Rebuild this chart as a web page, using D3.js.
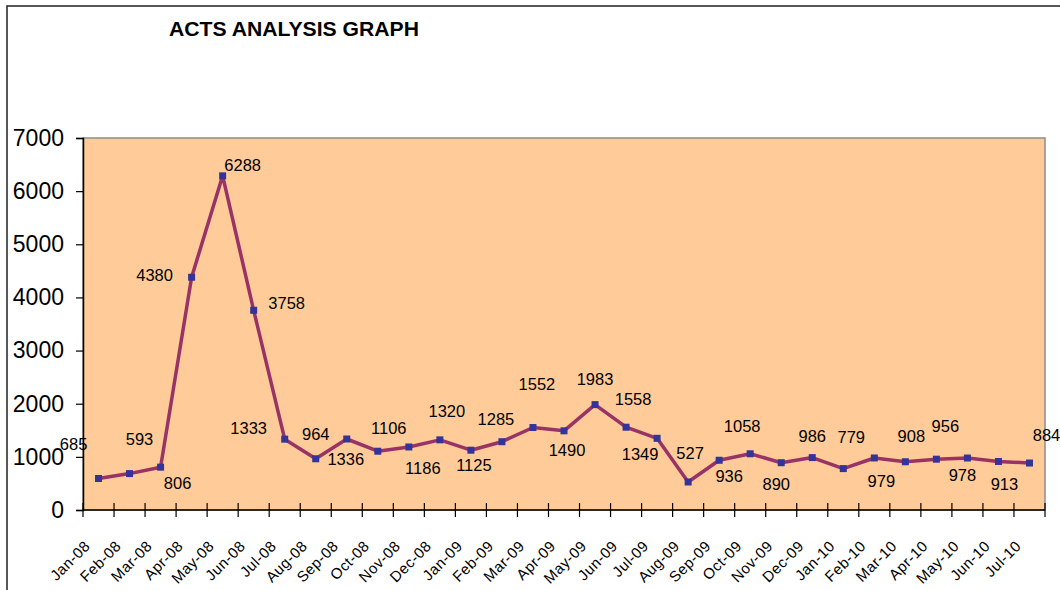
<!DOCTYPE html>
<html>
<head>
<meta charset="utf-8">
<script src="https://cdn.jsdelivr.net/npm/d3@7"></script>
<style>
  html, body { margin: 0; padding: 0; background: #fff; }
  svg { display: block; font-family: "Liberation Sans", Arial, sans-serif; }
</style>
</head>
<body>
<svg id="chart" width="1060" height="590"></svg>
<script>
// ---- data ----
const categories = ["Jan-08","Feb-08","Mar-08","Apr-08","May-08","Jun-08","Jul-08","Aug-08","Sep-08","Oct-08","Nov-08","Dec-08",
  "Jan-09","Feb-09","Mar-09","Apr-09","May-09","Jun-09","Jul-09","Aug-09","Sep-09","Oct-09","Nov-09","Dec-09",
  "Jan-10","Feb-10","Mar-10","Apr-10","May-10","Jun-10","Jul-10"];
const acts = [593, 685, 806, 4380, 6288, 3758, 1333, 964, 1336, 1106, 1186, 1320,
  1125, 1285, 1552, 1490, 1983, 1558, 1349, 527, 936, 1058, 890, 986,
  779, 979, 908, 956, 978, 913, 884];
const yTicks = [0, 1000, 2000, 3000, 4000, 5000, 6000, 7000];
const title = "ACTS ANALYSIS GRAPH";

// ---- layout (label placement, pixels relative to each marker) ----
const labelOffsets = [[41,-39],[-56,-30],[17,16],[-37,-2],[20,-11],[33,-7],[-36,-11],[0,-25],[-1,20],[11,-23],[14,21],[7,-29],
  [3,15],[-6,-23],[4,-44],[3,19],[0,-26],[7,-28],[-17,16],[2,-29],[10,16],[-8,-28],[-5,21],[0,-22],
  [8,-32],[7,23],[6,-26],[9,-33],[-5,17],[6,23],[17,-28]];

const svg = d3.select("#chart");
const pLeft = 83, pRight = 1045, pTop = 138, pBottom = 510;

// outer frame
svg.append("rect").attr("x", 7).attr("y", 6).attr("width", 1100).attr("height", 700)
  .attr("fill", "none").attr("stroke", "#222").attr("stroke-width", 1.5);

// title
svg.append("text").attr("x", 169).attr("y", 35.5)
  .attr("font-size", 20).attr("font-weight", "bold").attr("fill", "#000")
  .attr("textLength", 250).attr("lengthAdjust", "spacingAndGlyphs")
  .text(title);

const x = d3.scaleBand().domain(categories).range([pLeft, pRight]).paddingInner(0).paddingOuter(0);
const y = d3.scaleLinear().domain([0, 7000]).range([pBottom, pTop]);

// plot area
svg.append("rect").attr("x", pLeft).attr("y", pTop).attr("width", pRight - pLeft).attr("height", pBottom - pTop)
  .attr("fill", "#FFCC99").attr("stroke", "#8c8c8c").attr("stroke-width", 1.5);

// y axis
const yAxis = d3.axisLeft(y).tickValues(yTicks).tickSize(7).tickPadding(12).tickFormat(d3.format("d"));
const gy = svg.append("g").attr("transform", `translate(${pLeft},0)`).call(yAxis);
gy.select(".domain").attr("stroke", "#000").attr("stroke-width", 1.5);
gy.selectAll(".tick line").attr("stroke", "#000").attr("stroke-width", 1.2);
gy.selectAll(".tick text").attr("font-size", 23).attr("font-family", "Liberation Sans, Arial, sans-serif").attr("fill", "#000");

// x axis (ticks at category boundaries)
const gx = svg.append("g");
gx.append("line").attr("x1", pLeft).attr("x2", pRight).attr("y1", pBottom).attr("y2", pBottom)
  .attr("stroke", "#000").attr("stroke-width", 1.5);
const boundaries = categories.map(c => x(c)).concat([x(categories[categories.length - 1]) + x.bandwidth()]);
gx.selectAll("line.tk").data(boundaries).join("line").attr("class", "tk")
  .attr("x1", d => d).attr("x2", d => d).attr("y1", pBottom - 7).attr("y2", pBottom + 7)
  .attr("stroke", "#000").attr("stroke-width", 1.2);
gx.selectAll("text.xl").data(categories).join("text").attr("class", "xl")
  .attr("transform", d => `translate(${x(d) + 8},547) rotate(-45)`)
  .attr("text-anchor", "end").attr("font-size", 15).attr("letter-spacing", 0.5).attr("fill", "#000")
  .text(d => d);

// line
const cx = (d, i) => x(categories[i]) + x.bandwidth() / 2;
const line = d3.line().x((d, i) => cx(d, i)).y(d => y(d));
svg.append("path").datum(acts).attr("d", line)
  .attr("fill", "none").attr("stroke", "#993366").attr("stroke-width", 3.5).attr("stroke-linejoin", "round");

// markers
svg.selectAll("rect.mk").data(acts).join("rect").attr("class", "mk")
  .attr("x", (d, i) => cx(d, i) - 3.5).attr("y", d => y(d) - 3.5)
  .attr("width", 7).attr("height", 7).attr("fill", "#333399");

// data labels
svg.selectAll("text.dl").data(acts).join("text").attr("class", "dl")
  .attr("x", (d, i) => cx(d, i) + labelOffsets[i][0])
  .attr("y", (d, i) => y(d) + labelOffsets[i][1])
  .attr("text-anchor", "middle").attr("dominant-baseline", "central")
  .attr("font-size", 16.5).attr("fill", "#000")
  .text(d => d);
</script>
</body>
</html>
